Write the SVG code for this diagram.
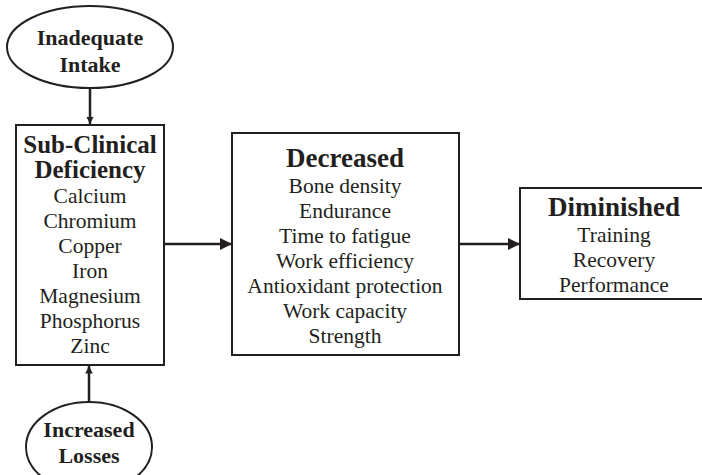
<svg xmlns="http://www.w3.org/2000/svg" width="702" height="475" viewBox="0 0 702 475">
  <style>
    .shape { fill: #ffffff; stroke: #231f20; stroke-width: 2; }
    .line { stroke: #231f20; stroke-width: 2.5; fill: none; }
    text { font-family: "Liberation Serif", "Times New Roman", serif; fill: #231f20; text-anchor: middle; }
    .head { font-weight: bold; font-size: 27px; }
    .head-sm { font-weight: bold; font-size: 25px; }
    .oval { font-weight: bold; font-size: 22px; }
    .item { font-size: 21.5px; }
  </style>
  <defs>
    <marker id="arrow" viewBox="0 0 10 10" refX="10" refY="5" markerWidth="5" markerHeight="5" markerUnits="strokeWidth" orient="auto">
      <path d="M0,0 L10,5 L0,10 Z" fill="#231f20"/>
    </marker>
    <marker id="arrowSmall" viewBox="0 0 10 10" refX="10" refY="5" markerWidth="3" markerHeight="3" markerUnits="strokeWidth" orient="auto">
      <path d="M0,0 L10,5 L0,10 Z" fill="#231f20"/>
    </marker>
  </defs>

  <g id="connectors">
    <line class="line" x1="90" y1="88" x2="90" y2="124" marker-end="url(#arrowSmall)"/>
    <line class="line" x1="89" y1="402" x2="89" y2="366" marker-end="url(#arrowSmall)"/>
    <line class="line" x1="164" y1="244" x2="232" y2="244" marker-end="url(#arrow)"/>
    <line class="line" x1="459" y1="244" x2="520" y2="244" marker-end="url(#arrow)"/>
  </g>

  <g id="inadequate-intake">
    <ellipse class="shape" cx="90" cy="47" rx="83" ry="41"/>
    <text class="oval" x="90" y="45">Inadequate</text>
    <text class="oval" x="90" y="72">Intake</text>
  </g>

  <g id="sub-clinical-deficiency">
    <rect class="shape" x="16" y="125" width="148" height="240"/>
    <text class="head-sm" x="90" y="153">Sub-Clinical</text>
    <text class="head-sm" x="90" y="178">Deficiency</text>
    <text class="item" x="90" y="203">Calcium</text>
    <text class="item" x="90" y="228">Chromium</text>
    <text class="item" x="90" y="253">Copper</text>
    <text class="item" x="90" y="278">Iron</text>
    <text class="item" x="90" y="303">Magnesium</text>
    <text class="item" x="90" y="328">Phosphorus</text>
    <text class="item" x="90" y="353">Zinc</text>
  </g>

  <g id="increased-losses">
    <ellipse class="shape" cx="89" cy="447" rx="63" ry="45"/>
    <text class="oval" x="89" y="437">Increased</text>
    <text class="oval" x="89" y="463">Losses</text>
  </g>

  <g id="decreased">
    <rect class="shape" x="232" y="133" width="227" height="222"/>
    <text class="head" x="345" y="167">Decreased</text>
    <text class="item" x="345" y="193">Bone density</text>
    <text class="item" x="345" y="218">Endurance</text>
    <text class="item" x="345" y="243">Time to fatigue</text>
    <text class="item" x="345" y="268">Work efficiency</text>
    <text class="item" x="345" y="293">Antioxidant protection</text>
    <text class="item" x="345" y="318">Work capacity</text>
    <text class="item" x="345" y="343">Strength</text>
  </g>

  <g id="diminished">
    <rect class="shape" x="520" y="188" width="184" height="111"/>
    <text class="head" x="614" y="216">Diminished</text>
    <text class="item" x="614" y="242">Training</text>
    <text class="item" x="614" y="267">Recovery</text>
    <text class="item" x="614" y="292">Performance</text>
  </g>
</svg>
